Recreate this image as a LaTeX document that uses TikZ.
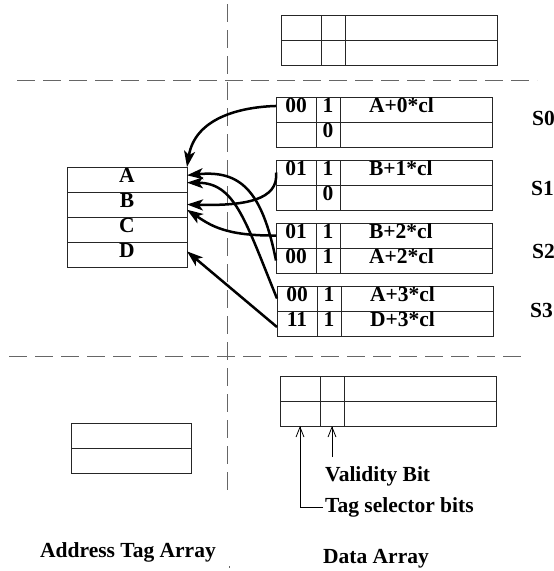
\documentclass[tikz,border=0pt]{standalone}
\usepackage{fontspec}
\setmainfont{Liberation Serif}
\usetikzlibrary{arrows.meta,positioning}

\begin{document}
\begin{tikzpicture}[x=1pt, y=-1pt, every node/.style={font=\fontsize{21.5}{24}\selectfont\bfseries},
  >={Stealth[length=16pt, width=11pt, inset=4pt]},
  cell/.style={draw=black!85, line width=1pt, minimum height=25pt, inner sep=0pt, outer sep=0pt, text height=14pt, text depth=8pt},
  tagcell/.style={cell, minimum width=40pt},
  bitcell/.style={cell, minimum width=24pt},
  datacell/.style={cell, minimum width=152pt, text width=94pt, align=left},
  addrcell/.style={cell, minimum width=120pt},
  note/.style={anchor=base west, inner sep=2pt},
  sep/.style={draw=black!60, line width=1pt, dash pattern=on 18pt off 8pt},
  link/.style={->, line width=2.5pt},
  pointer/.style={-{Straight Barb[length=10pt, width=8pt]}, line width=0.8pt}]
	\useasboundingbox (0,0) rectangle (554,571);

	% separators
	\draw[sep] (17,80) -- (537,80);
	\draw[sep] (9,356) -- (528,356);
	\draw[sep] (227,4) -- (227,497);
	\draw[sep] (229,566) -- (229,568);

	% data array rows: tag | valid | data
	\foreach \name/\xx/\yy/\tg/\vb/\dt in {top1/281/15///, top2/281/40///,
	    s0a/276/97/00/1/A+0*cl, s0b/276/122//0/,
	    s1a/276/160/01/1/B+1*cl, s1b/276/185//0/,
	    s2a/276/223/01/1/B+2*cl, s2b/276/248/00/1/A+2*cl,
	    s3a/277/286/00/1/A+3*cl, s3b/277/311/11/1/D+3*cl,
	    dd1/280/376///, dd2/280/401///}{
		\node[tagcell, anchor=north west] (\name-t) at (\xx,\yy) {\tg};
		\node[bitcell, right=0pt of \name-t] (\name-v) {\vb};
		\node[datacell, right=0pt of \name-v] (\name-d) {\dt};
	}

	% address tag array
	\node[addrcell, anchor=north west] (tagA) at (67,167) {A};
	\node[addrcell, below=0pt of tagA] (tagB) {B};
	\node[addrcell, below=0pt of tagB] (tagC) {C};
	\node[addrcell, below=0pt of tagC] (tagD) {D};
	\node[addrcell, anchor=north west] (spare1) at (71,423) {};
	\node[addrcell, below=0pt of spare1] (spare2) {};

	% sets
	\node[note] (set0) at (530,125) {S0};
	\node[note] (set1) at (529,195) {S1};
	\node[note] (set2) at (530,258) {S2};
	\node[note] (set3) at (528,317) {S3};

	% tag selector links
	\draw[link] (s0a-t.170) .. controls (240,107) and (195,118) .. (tagA.north east);
	\draw[link] (s1a-t.west) .. controls (279,200) and (245,206) .. (tagB.east);
	\draw[link] (s2a-t.west) .. controls (225,236) and (210,225) .. (tagB.-5);
	\draw[link] (s2b-t.west) .. controls (262,190) and (240,170) .. (tagA.4);
	\draw[link] (s3a-t.west) .. controls (245,220) and (235,183) .. (tagA.-3);
	\draw[link] (s3b-t.190) -- (tagD.3);

	% legend
	\node[note] (valid) at (323,481) {Validity Bit};
	\node[note] (tagsel) at (323,512) {Tag selector bits};
	\coordinate (vfoot) at (332,457);
	\draw[pointer] (vfoot) -- (dd2-v.south);
	\draw[pointer] (tagsel.west) -| (dd2-t.south);

	\node[anchor=base] (addrlabel) at (128,557) {Address Tag Array};
	\node[anchor=base] (datalabel) at (376,563) {Data Array};
\end{tikzpicture}
\end{document}
